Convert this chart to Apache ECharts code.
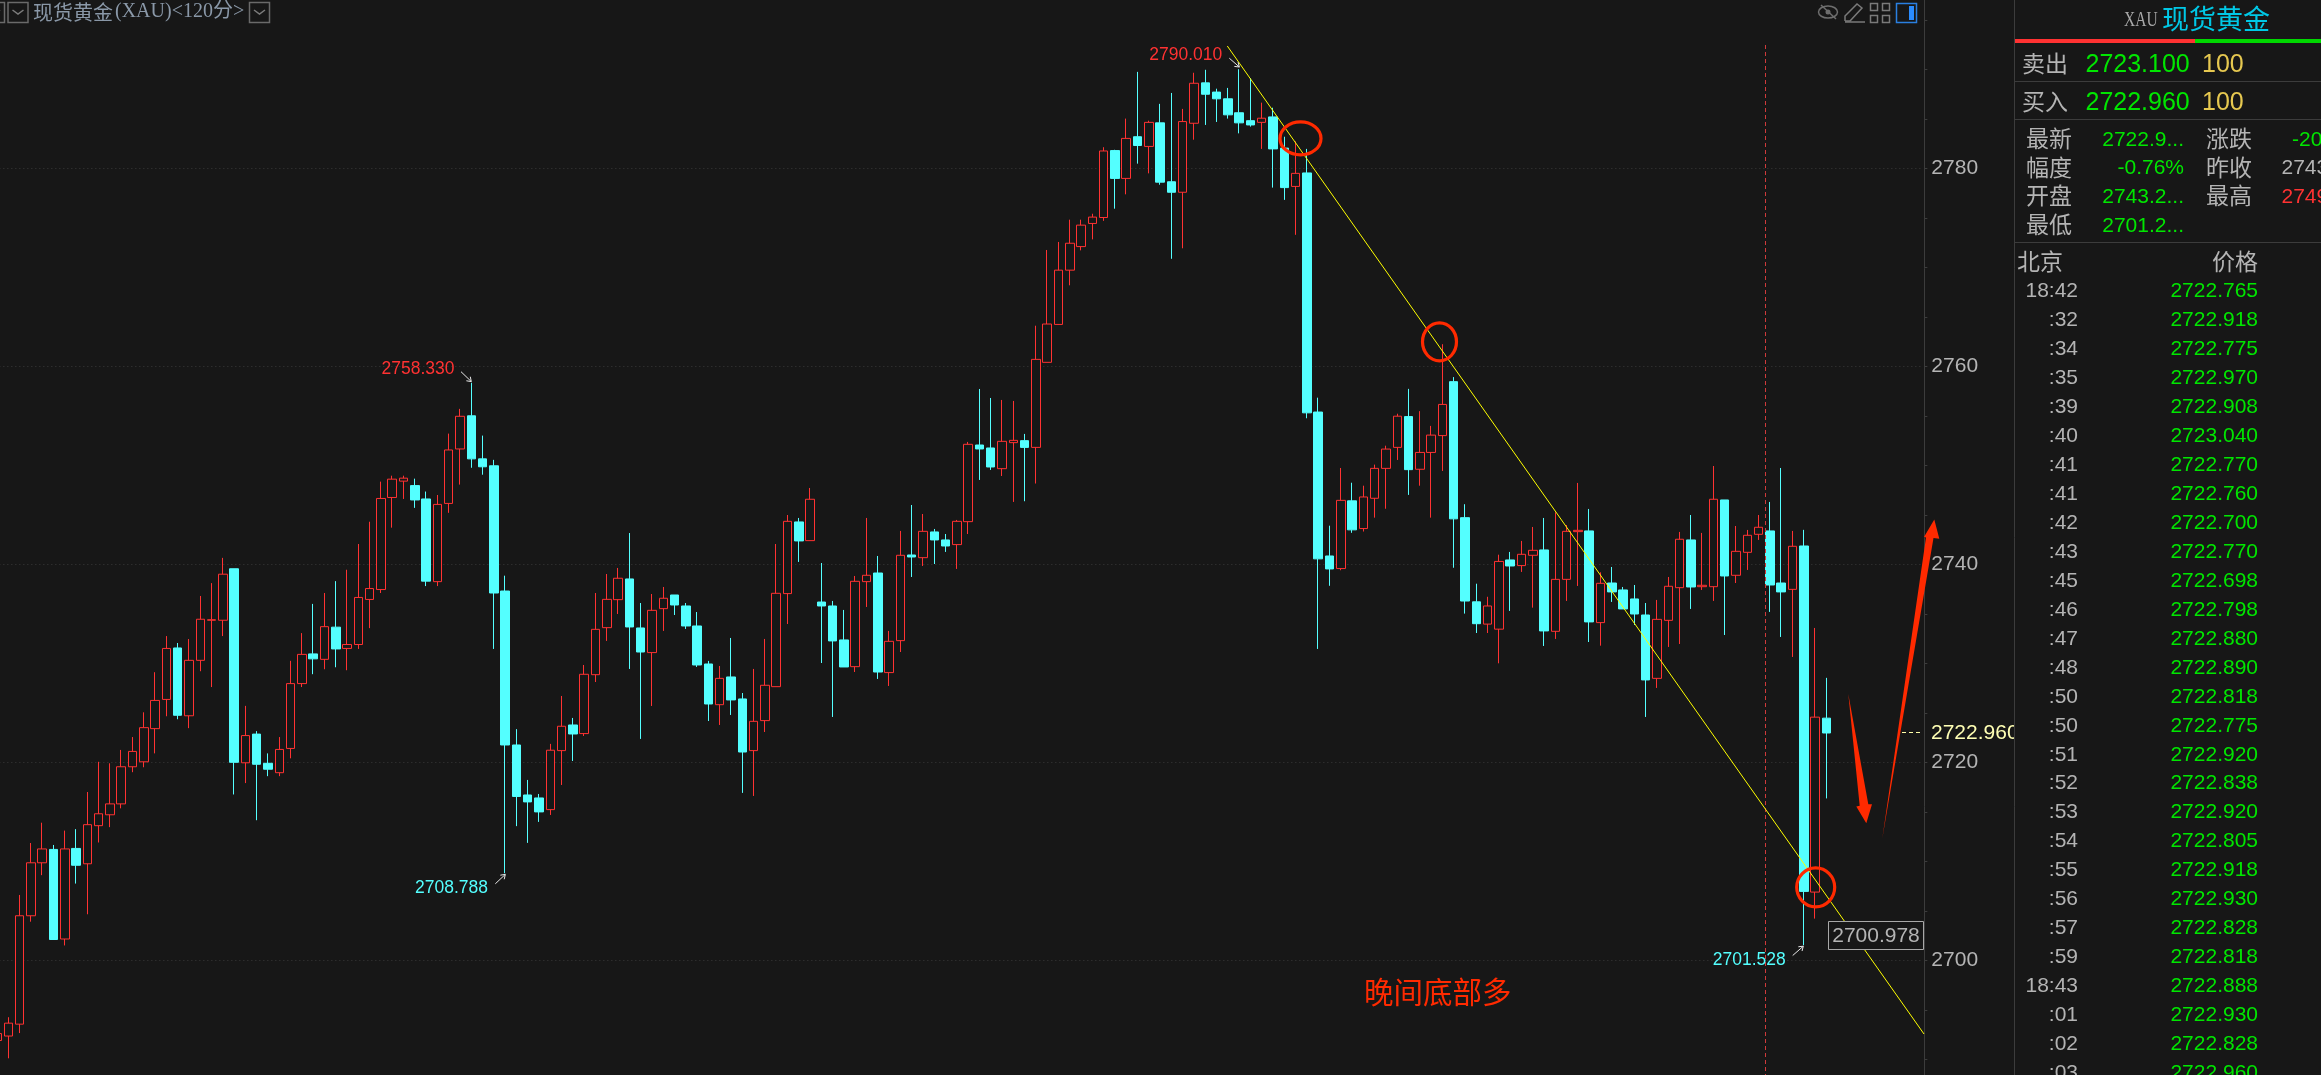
<!DOCTYPE html>
<html>
<head>
<meta charset="utf-8">
<style>html,body{margin:0;padding:0;background:#171717;overflow:hidden}#c{width:2321px;height:1075px}</style>
<script src="https://cdn.jsdelivr.net/npm/echarts@6/dist/echarts.min.js"></script>
</head>
<body>
<div id="c"></div>
<script>
// Candles as [open, close, low, high], 120-minute bars of XAU
const legRiseA = [
[2691.9,2692.6,2691.5,2693],
[2692.35,2693.65,2690.1,2694.25],[2693.55,2704.5,2692.65,2706.6],[2704.5,2709.85,2703.9,2711.85],[2709.85,2711.25,2708.6,2713.9],
[2711.2,2702.1,2702.1,2711.65],[2702.15,2711.25,2701.5,2713.1],[2711.3,2709.6,2707.75,2713.25],[2709.75,2713.7,2704.65,2717],
[2713.6,2714.8,2711.9,2720.05],[2714.7,2715.8,2713.45,2719.9],[2715.8,2719.55,2715.35,2721.25],[2719.55,2721.1,2719,2722.55],
[2720.05,2723.5,2719.5,2725.05],[2723.4,2726.25,2720.9,2729.1],[2726.35,2731.5,2724.65,2732.75],[2731.55,2724.75,2724.35,2732.05],
[2724.7,2730.3,2723.45,2732.45],[2730.3,2734.45,2729.2,2736.8],[2734.35,2734.4,2727.6,2738.1],[2734.35,2739,2732.75,2740.65],
[2739.55,2720,2716.75,2739.55],[2719.95,2722.7,2717.9,2725.7],[2722.85,2719.8,2714.15,2723.15],[2719.9,2719.3,2718.6,2720.9],
[2718.95,2721.3,2718.6,2722.55],[2721.4,2727.95,2720.4,2730.25],[2727.95,2730.9,2727.6,2733.05],[2730.95,2730.45,2728.9,2736],
[2730.4,2733.7,2729.4,2737.1],[2733.65,2731.45,2729.6,2738.3],[2731.5,2731.9,2729.3,2739.45],[2731.9,2736.65,2731.45,2742.05],
[2736.45,2737.55,2733.55,2744.3],[2737.45,2746.65,2737.1,2748.35],[2746.75,2748.6,2743.7,2748.95],[2748.4,2748.7,2746.6,2748.95],
[2747.95,2746.5,2745.7,2748.65],[2746.6,2738.3,2737.8,2747.35],[2738.25,2746.05,2737.8,2747],[2746.15,2751.55,2745.2,2753.2],
[2751.65,2754.95,2748.05,2755.7],[2755,2750.65,2749.75,2758.33],[2750.65,2749.85,2749.05,2753],[2749.95,2737.1,2731.45,2750.55],
[2737.3,2721.75,2708.79,2738.85],[2721.75,2716.55,2713.55,2723.35]
];
const legMiddle = [
[2716.7,2716,2711.86,2718.22],[2716.4,2714.99,2713.98,2716.8],[2715.22,2721.22,2714.68,2721.86],[2721.18,2723.64,2717.71,2726.7],
[2723.77,2722.86,2720.13,2724.48],[2722.9,2728.89,2722.66,2729.83],[2728.85,2733.43,2728.11,2737.1],[2733.6,2736.46,2732.26,2739.02],
[2736.43,2738.59,2734.98,2739.63],[2738.52,2733.67,2729.43,2743.16],[2733.57,2731.14,2722.36,2736.09],[2731.08,2735.35,2725.69,2737],
[2735.52,2736.57,2733.27,2737.71],[2736.9,2735.89,2734.88,2736.9],[2735.79,2733.77,2733.47,2736.09],[2733.77,2729.83,2729.63,2735.18],
[2729.93,2725.89,2724.17,2730.24],[2725.82,2728.48,2723.77,2729.73],[2728.62,2726.3,2724.78,2732.56],[2726.4,2721.04,2716.91,2727],
[2721.18,2724.14,2716.6,2729.43],[2724.21,2727.78,2723.06,2732.46],[2727.64,2737.07,2727.64,2742.05],[2737.04,2744.34,2733.97,2744.98],
[2744.28,2742.36,2740.24,2744.68],[2742.39,2746.57,2742.39,2747.71],[2736.19,2735.79,2730.03,2740.13],[2735.79,2732.26,2724.58,2736.3],
[2732.36,2729.63,2729.63,2735.39],[2729.66,2738.28,2729.12,2738.82],[2738.25,2738.89,2735.69,2744.68],[2739.12,2729.12,2728.42,2740.84],
[2729.06,2732.22,2727.71,2733.27],[2732.29,2740.91,2731.14,2743.37],[2740.94,2740.74,2738.72,2745.99],[2740.67,2743.33,2739.83,2745.08],
[2743.27,2742.46,2740.03,2743.57],[2742.46,2741.85,2741.25,2743.06],[2741.99,2744.34,2739.53,2744.48],[2744.31,2752.12,2743.06,2752.36],
[2752.05,2751.65,2748.52,2757.71],[2751.75,2749.83,2749.53,2756.8],[2749.66,2752.42,2748.92,2756.6],[2752.29,2752.52,2746.3,2756.5]
];
const legPeak = [
[2752.49,2751.81,2746.37,2753.17],[2751.81,2760.7,2748.16,2764.1],[2760.4,2764.27,2760.4,2771.75],[2764.23,2769.71,2764.23,2772.56],
[2769.71,2772.43,2768.18,2774.81],[2772.09,2774.26,2771.71,2774.81],[2774.43,2775.07,2772.82,2775.41],[2775.03,2781.75,2774.69,2782.13],
[2781.79,2778.98,2775.92,2781.87],[2778.98,2783.02,2777.37,2785.02],[2783.19,2782.3,2780.47,2789.74],[2782.21,2784.64,2779.49,2784.81],
[2784.59,2778.6,2778.34,2786.51],[2778.64,2777.58,2770.86,2787.61],[2777.58,2784.72,2771.92,2786],[2784.55,2788.59,2782.89,2789.65],
[2788.63,2787.48,2784.38,2789.95],[2787.7,2787.02,2784.68,2788.04],[2787.02,2785.4,2785.02,2788.12],[2785.61,2784.59,2783.53,2790.01],
[2784.81,2784.38,2784.21,2789.1],[2784.64,2785.06,2781.96,2786.63],[2785.19,2781.96,2778.05,2786.12],[2782.04,2778.05,2776.81,2783.19],
[2778.17,2779.49,2773.28,2782.72],[2779.53,2755.3,2754.75,2781.96],[2755.38,2740.55,2731.45,2756.83],[2740.84,2739.53,2737.83,2743.9],
[2739.57,2746.46,2739.4,2749.73],[2746.41,2743.48,2743.18,2748.24],[2743.61,2746.8,2743.31,2747.94],[2746.67,2749.69,2744.71,2750.07],
[2749.69,2751.64,2745.61,2751.98],[2751.81,2754.96,2750.54,2755.21],[2754.92,2749.56,2747.01,2757.72],[2749.6,2751.3,2747.94,2755.47],
[2751.3,2753.05,2744.71,2753.98],[2753,2756.15,2749.43,2762.23],[2758.45,2744.59,2739.65,2758.91],[2744.71,2736.29,2735.02,2746.07],
[2736.21,2734,2733.06,2738.04],[2733.96,2735.79,2733.06,2736.72],[2733.45,2740.29,2730,2740.97]
];
const legDecline = [
[2740.44,2739.83,2735.29,2741.25],[2739.87,2741.01,2739.23,2742.36],[2740.91,2741.41,2735.62,2743.77],[2741.45,2733.27,2731.75,2744.68],
[2733.23,2738.48,2732.46,2745.25],[2738.48,2743.33,2736.3,2743.97],[2743.3,2743.43,2737.81,2748.22],[2743.37,2734.18,2732.15,2745.59],
[2734.11,2738.08,2731.78,2739.19],[2738.11,2737.21,2736.2,2739.73],[2737.41,2735.49,2735.49,2737.71],[2736.5,2734.98,2733.87,2737.91],
[2734.88,2728.32,2724.58,2736.09],[2728.48,2734.44,2727.51,2736.4],[2734.34,2737.78,2731.65,2738.72],[2737.64,2742.53,2731.95,2743.27],
[2742.46,2737.71,2735.49,2744.98],[2737.74,2737.88,2737.41,2743.17],[2737.74,2746.57,2736.3,2749.93],[2746.5,2738.82,2732.86,2746.5],
[2738.89,2741.31,2738.11,2743.87],[2741.21,2742.93,2739.43,2743.47],[2743.03,2743.74,2742.46,2744.98],[2743.37,2737.91,2735.19,2746.3],
[2738.11,2737.21,2732.66,2749.73],[2737.47,2741.82,2730.64,2743.37],[2741.85,2706.96,2701.53,2743.48],[2706.89,2724.56,2704.21,2733.57],
[2724.46,2722.96,2716.35,2728.53]
];
const emptySlots = 8; // free bars to the right of the last candle
const priceTicks = {min: 2680, max: 2800, interval: 20};
const lastPrice = '2722.960';
const extremes = {high1: '2758.330', low1: '2708.788', high2: '2790.010', low2: '2701.528', cursor: '2700.978'};

const askRow = ['卖出', '2723.100', '100'];
const bidRow = ['买入', '2722.960', '100'];
const quoteLeft = [['最新', '2722.9...'], ['幅度', '-0.76%'], ['开盘', '2743.2...'], ['最低', '2701.2...']];
const quoteRight = [['涨跌', '-20'], ['昨收', '2743.2'], ['最高', '2749.8']];
const tapeTimes = ['18:42', ':32', ':34', ':35', ':39', ':40', ':41', ':41', ':42', ':43', ':45', ':46', ':47', ':48',
  ':50', ':50', ':51', ':52', ':53', ':54', ':55', ':56', ':57', ':59', '18:43', ':01', ':02', ':03'];
const tapePrices = ['2722.765', '2722.918', '2722.775', '2722.970', '2722.908', '2723.040', '2722.770', '2722.760',
  '2722.700', '2722.770', '2722.698', '2722.798', '2722.880', '2722.890', '2722.818', '2722.775', '2722.920', '2722.838',
  '2722.920', '2722.805', '2722.918', '2722.930', '2722.828', '2722.818', '2722.888', '2722.930', '2722.828', '2722.960'];

const candles = [...legRiseA, ...legMiddle, ...legPeak, ...legDecline];
const categories = candles.map((_, i) => String(i)).concat(Array.from({length: emptySlots}, (_, i) => 'e' + i));

const BG = '#171717', RED = '#ff3232', CYAN = '#54ffff', GREEN = '#00e600', GRAY = '#b4b4b4', LINE = '#3c3c3c', MARK = '#ff2a00';
const SANS = '"Liberation Sans", Arial, sans-serif';
const CJK = '"Noto Sans CJK SC", sans-serif';
const SERIF = '"Liberation Serif", serif';

const g = [];
function text(x, y, t, fill, font, align, scaleX) {
  g.push({type: 'text', x, y, scaleX: scaleX || 1, silent: true, style: {text: t, fill, font, textAlign: align || 'left', textVerticalAlign: 'middle'}});
}
function line(x1, y1, x2, y2, stroke, width, dash) {
  g.push({type: 'line', silent: true, shape: {x1, y1, x2, y2}, style: {stroke, lineWidth: width || 1, lineDash: dash || null}});
}
function rect(x, y, w, h, fill, stroke, width) {
  g.push({type: 'rect', silent: true, shape: {x, y, width: w, height: h}, style: {fill: fill || 'none', stroke: stroke || 'none', lineWidth: width || 1}});
}
function poly(points, style, closed) {
  g.push({type: closed ? 'polygon' : 'polyline', silent: true, shape: {points}, style});
}
function ellipse(cx, cy, rx, ry) {
  g.push({type: 'ellipse', silent: true, shape: {cx, cy, rx, ry}, style: {fill: 'none', stroke: MARK, lineWidth: 3.2}});
}
function pointer(x1, y1, x2, y2) {
  line(x1, y1, x2, y2, '#e8e8e8', 1);
  const a = Math.atan2(y2 - y1, x2 - x1);
  poly([[x2 - 5 * Math.cos(a - 0.6), y2 - 5 * Math.sin(a - 0.6)], [x2, y2], [x2 - 5 * Math.cos(a + 0.6), y2 - 5 * Math.sin(a + 0.6)]], {fill: 'none', stroke: '#e8e8e8', lineWidth: 1});
}
function chevronBox(x, y) {
  rect(x + 0.5, y + 0.5, 20, 20, 'none', '#6a6a6a', 1.5);
  poly([[x + 5, y + 8], [x + 10.5, y + 12], [x + 16, y + 8]], {fill: 'none', stroke: '#7c7c7c', lineWidth: 1.5});
}

// session divider
line(1765.5, 45, 1765.5, 1075, '#d03a3a', 1, [4, 3]);
// trend line
line(1227.3, 46, 1924, 1034, '#ffff00', 1);
// last price marker
line(1902, 732.5, 1923, 732.5, '#ffffa8', 1, [4, 3]);
text(1931, 733, lastPrice, '#ffffb4', '21px ' + SANS);

// circles
ellipse(1300.5, 138.4, 20.5, 16.5);
ellipse(1439.5, 341.8, 17, 19);
ellipse(1815.7, 887.3, 19, 19.5);

// arrows
poly([[1848.3, 694], [1868.3, 804.3], [1872, 804.3], [1866.3, 823.3], [1856.3, 806.4], [1859.7, 805.7]], {fill: MARK}, true);
poly([[1882.3, 838.4], [1926, 537.5], [1924, 537], [1934.3, 519.5], [1939.3, 538.8], [1933.5, 538]], {fill: MARK}, true);
text(1364, 992, '晚间底部多', MARK, '29.5px ' + CJK);

// extreme labels
text(381.5, 369, extremes.high1, RED, '17.5px ' + SANS); pointer(461, 371.7, 471.3, 381.6);
text(415, 888, extremes.low1, CYAN, '17.5px ' + SANS); pointer(495.3, 883.8, 505.3, 874.4);
text(1149.3, 55.3, extremes.high2, RED, '17.5px ' + SANS); pointer(1229.3, 58.2, 1239.3, 67);
text(1712.7, 960, extremes.low2, CYAN, '17.5px ' + SANS); pointer(1792.7, 955.5, 1803.3, 946.2);

// crosshair price box
rect(1828.5, 921.5, 95, 28, BG, '#a8a8a8', 1);
text(1876, 936, extremes.cursor, GRAY, '21px ' + SANS, 'center');

// top-left title
chevronBox(-16, 2);
chevronBox(7.5, 2);
text(33, 12, '现货黄金', '#8a98a8', '20px ' + CJK);
text(115, 12, '(XAU)<120分>', '#8a98a8', '20px ' + SERIF + ', ' + CJK);
chevronBox(249, 2);

// top-right tool icons
g.push({type: 'ellipse', silent: true, shape: {cx: 1828, cy: 12, rx: 9.5, ry: 6}, style: {fill: 'none', stroke: '#6e6e6e', lineWidth: 1.5}});
g.push({type: 'circle', silent: true, shape: {cx: 1828, cy: 12, r: 2.5}, style: {fill: '#6e6e6e'}});
line(1821, 5, 1836, 19, '#6e6e6e', 1.5);
poly([[1845, 21], [1845, 16], [1857, 4], [1862, 8], [1850, 21], [1845, 21]], {fill: 'none', stroke: '#7a7a7a', lineWidth: 1.5});
line(1845, 22, 1865, 22, '#7a7a7a', 1.5);
[[1871, 4], [1883, 4], [1871, 16], [1883, 16]].forEach(p => rect(p[0] - 0.5, p[1] - 0.5, 7, 7, 'none', '#7a7a7a', 1.5));
rect(1896.5, 3.5, 20, 19, 'none', '#2a7fe0', 1.5);
rect(1909, 6, 5, 14, '#2a8cff');

// right-hand quote panel
rect(2014, 0, 307, 1075, BG);
line(2014.5, 0, 2014.5, 1075, LINE, 1);
text(2124, 20, 'XAU', '#a8a8a8', '21px ' + SERIF, 'left', 0.74);
text(2162, 19, '现货黄金', '#00c8e6', '27px ' + CJK);
rect(2015, 39, 180, 4, RED);
rect(2195, 39, 126, 4, '#00d800');
[[askRow, 65], [bidRow, 103]].forEach(([row, y]) => {
  text(2022, y - 1.5, row[0], GRAY, '23px ' + CJK);
  text(2085.5, y, row[1], GREEN, '25px ' + SANS);
  text(2202, y, row[2], '#e6c850', '25px ' + SANS);
});
line(2015, 81.5, 2321, 81.5, LINE, 1);
line(2015, 119.5, 2321, 119.5, LINE, 1);
const quoteY = [140, 168.5, 197, 226];
quoteLeft.forEach((r, i) => {
  text(2026, quoteY[i] - 1.5, r[0], GRAY, '23px ' + CJK);
  text(2184, quoteY[i], r[1], GREEN, '21px ' + SANS, 'right');
});
quoteRight.forEach((r, i) => {
  text(2206, quoteY[i] - 1.5, r[0], GRAY, '23px ' + CJK);
  text(i === 0 ? 2292 : 2281.5, quoteY[i], r[1], i === 0 ? GREEN : (i === 1 ? GRAY : RED), '21px ' + SANS);
});
line(2015, 242.5, 2321, 242.5, LINE, 1);
text(2017, 261, '北京', GRAY, '23px ' + CJK);
text(2258, 261, '价格', GRAY, '23px ' + CJK, 'right');
tapeTimes.forEach((t, i) => {
  const y = 291.7 + i * 28.94;
  text(2078, y, t, GRAY, '21px ' + SANS, 'right');
  text(2258, y, tapePrices[i], GREEN, '21px ' + SANS, 'right');
});

const chart = echarts.init(document.getElementById('c'), null, {renderer: 'canvas'});
chart.setOption({
  animation: false,
  backgroundColor: BG,
  tooltip: {show: false},
  grid: {left: -8.646, top: -29.7, width: 1931, height: 1188, containLabel: false, outerBoundsMode: 'none'},
  xAxis: {type: 'category', data: categories, show: false, boundaryGap: true},
  yAxis: {
    type: 'value', position: 'right', offset: 2,
    min: priceTicks.min, max: priceTicks.max, interval: priceTicks.interval,
    axisLine: {show: true, onZero: false, lineStyle: {color: LINE, width: 1}},
    axisTick: {show: true, length: 3, lineStyle: {color: LINE}},
    minorTick: {show: true, splitNumber: 4, length: 3, lineStyle: {color: LINE}},
    splitLine: {show: true, lineStyle: {color: '#3a3a3a', width: 1, type: [1, 3]}},
    minorSplitLine: {show: false},
    axisLabel: {show: true, margin: 7, color: GRAY, fontFamily: SANS, fontSize: 21, showMinLabel: false, showMaxLabel: false, formatter: v => String(v)}
  },
  series: [{
    type: 'candlestick',
    data: candles,
    barWidth: 9,
    itemStyle: {color: BG, color0: CYAN, borderColor: RED, borderColor0: CYAN, borderWidth: 1}
  }],
  graphic: {elements: g.map((e, i) => Object.assign({z: 100 + i, zlevel: 0}, e))}
});
</script>
</body>
</html>
